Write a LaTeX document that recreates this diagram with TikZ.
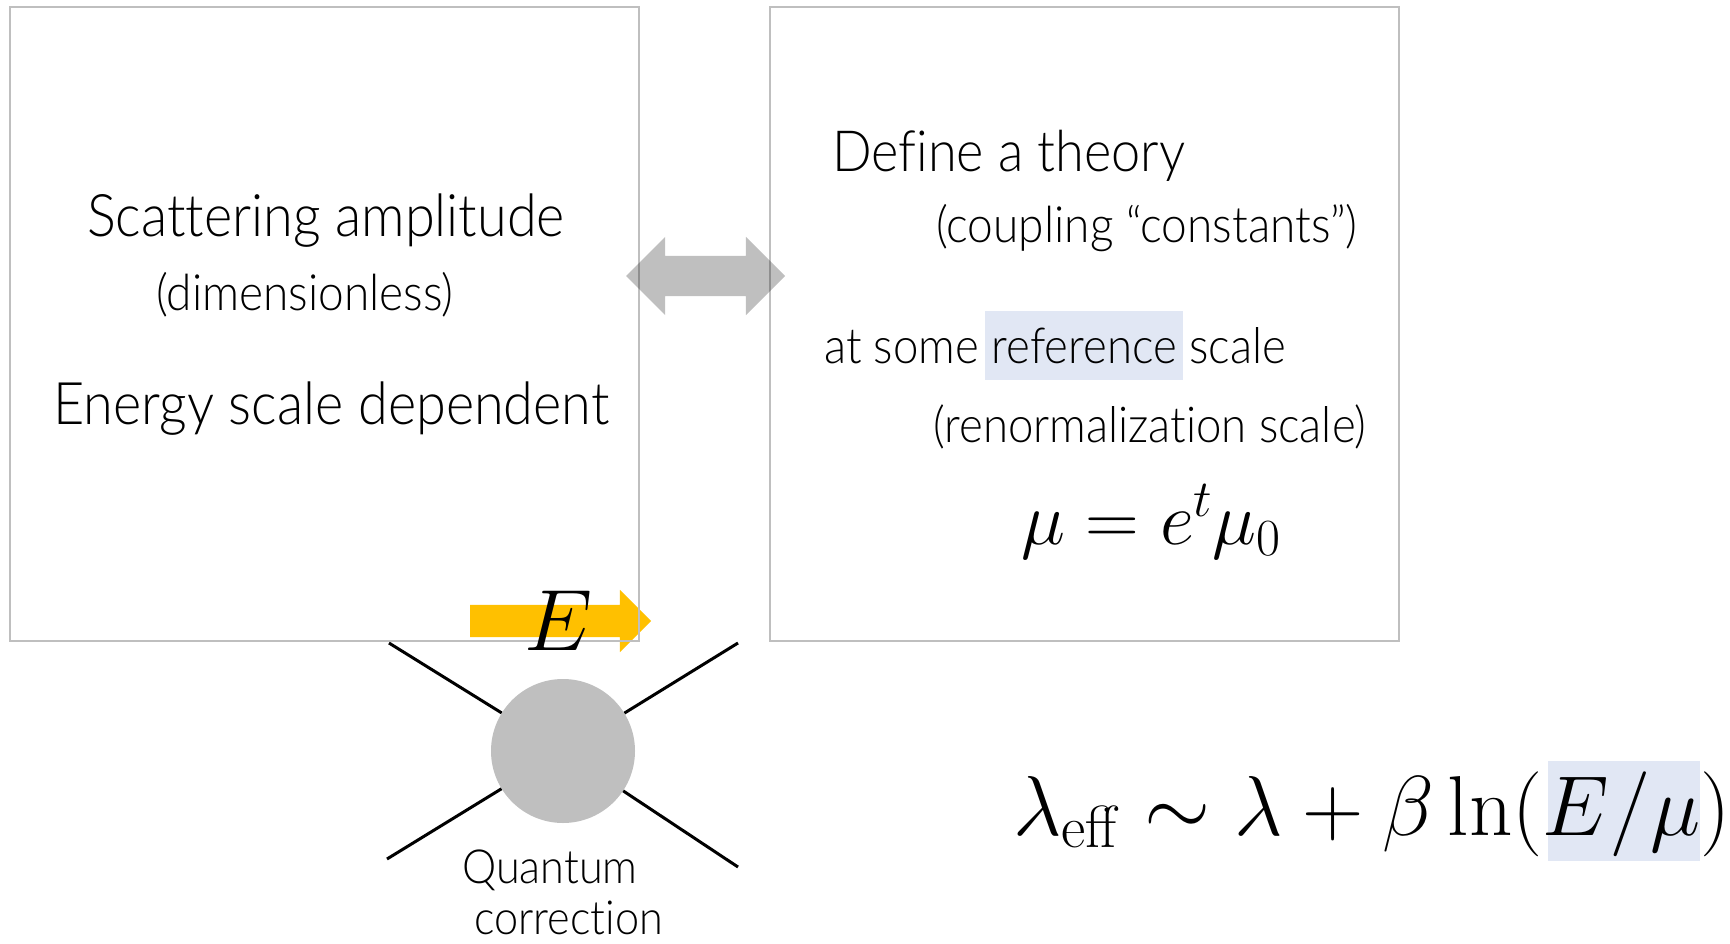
\RequirePackage{fix-cm}
\documentclass[tikz,border=0pt]{standalone}
\usepackage[no-math]{fontspec}
\IfFontExistsTF{Lato Light}{\setmainfont{Lato Light}[FakeStretch=0.92,Ligatures=NoCommon]}{\setmainfont{Lato}[FakeStretch=0.92,Ligatures=NoCommon]}
\usetikzlibrary{shapes.arrows}
\definecolor{boxgray}{HTML}{BFBFBF}
\definecolor{hl}{HTML}{E1E7F4}
\definecolor{amber}{HTML}{FFC000}
\tikzset{
  panel/.style={draw=boxgray, line width=2pt, rectangle, inner sep=0},
  bigtxt/.style={font=\fontsize{58.7}{62}\selectfont, inner sep=0, anchor=base west},
  smalltxt/.style={font=\fontsize{50}{54}\selectfont, inner sep=0, anchor=base west},
  leg/.style={line width=3pt, black},
  mathtxt/.style={inner sep=0, anchor=base west},
}
\begin{document}
\begin{tikzpicture}[x=1pt, y=-1pt]
\useasboundingbox (0,0) rectangle (1730,943);
% energy arrow (under the panel outline)
\node[single arrow, fill=amber, draw=none, minimum height=181pt,
      single arrow head extend=15pt, inner sep=16pt] (earrow) at (552.5,621) {};
% panels
\node[panel, minimum width=629pt, minimum height=634pt] (lbox) at (324.5,324) {};
\node[panel, minimum width=629pt, minimum height=634pt] (rbox) at (1084.5,324) {};
% double arrow between panels
\node[double arrow, fill=black, fill opacity=0.25, draw=none,
      minimum height=159pt, double arrow head extend=19pt, inner sep=20pt]
      (link) at (705.5,276) {};
% scattering diagram
\node[circle, fill=boxgray, minimum size=144pt, inner sep=0] (blob) at (563,751) {};
\coordinate (ul) at (389,643);
\coordinate (ur) at (738,643);
\coordinate (ll) at (387,859);
\coordinate (lr) at (738,867);
\draw[leg] (ul) -- (blob);
\draw[leg] (ur) -- (blob);
\draw[leg] (ll) -- (blob);
\draw[leg] (lr) -- (blob);
\node[inner sep=0, anchor=base, font=\fontsize{87}{90}\selectfont] (elabel) at (559,650) {$E$};
% left panel text
\node[bigtxt] (scat) at (87,236) {Scattering amplitude};
\node[smalltxt] (dimless) at (156,310) {(dimensionless)};
\node[bigtxt] (energy) at (53,424) {Energy scale dependent};
% right panel text
\node[bigtxt, font=\fontsize{56.8}{60}\selectfont] (define) at (832,171) {Define a theory};
\node[smalltxt] (coupling) at (936,242) {(coupling “constants”)};
\fill[hl] (985,311) rectangle (1183,380);
\node[bigtxt, font=\fontsize{49.5}{54}\selectfont] (atsome) at (824,363) {at some reference scale};
\node[smalltxt, font=\fontsize{49.5}{54}\selectfont] (renorm) at (933,442) {(renormalization scale)};
\node[mathtxt, font=\fontsize{74.5}{78}\selectfont] (mueq) at (1021,544) {$\mu = e^t\mu_0$};
% quantum correction label
\node[smalltxt, font=\fontsize{47}{51}\selectfont] (quant) at (462,883) {Quantum};
\node[smalltxt, font=\fontsize{47}{51}\selectfont] (corr) at (474,934) {correction};
% effective coupling
\fill[hl] (1548,761) rectangle (1700,861);
\node[mathtxt, font=\fontsize{85}{88}\selectfont] (lameq) at (1013,835) {$\lambda_{\mathrm{eff}} \sim \lambda + \beta\ln(E/\mu)$};
\end{tikzpicture}
\end{document}
